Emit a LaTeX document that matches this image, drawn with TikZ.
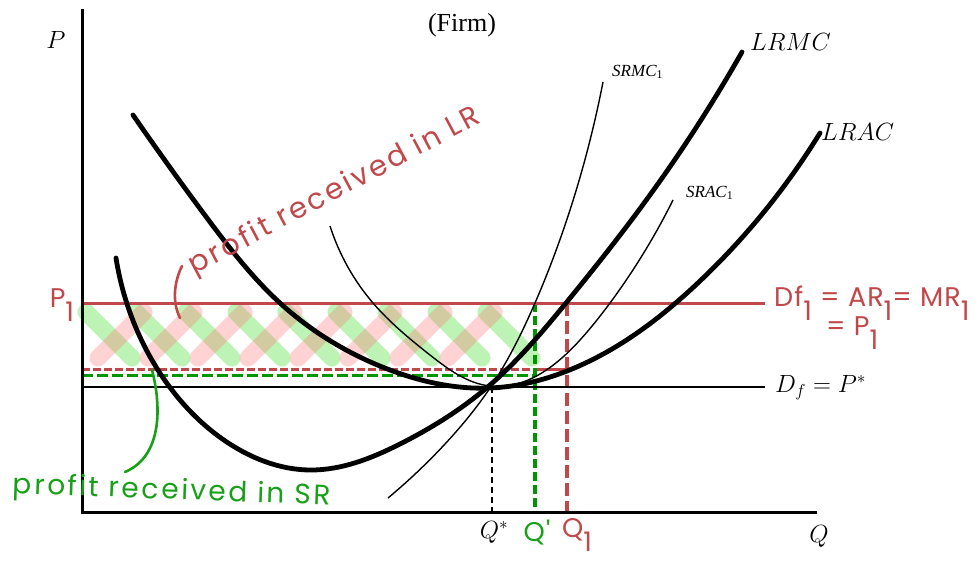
\documentclass[tikz,border=0pt]{standalone}
\usepackage{fontspec}
\usetikzlibrary{hobby}
\newfontfamily\hand{Poppins}[LetterSpace=4]
\newfontfamily\handwide{Poppins}[LetterSpace=9]
\newfontfamily\timesf{Liberation Serif}
\definecolor{hred}{RGB}{192,72,74}
\definecolor{hgreen}{RGB}{25,160,25}
\definecolor{dgreen}{RGB}{0,150,0}
\definecolor{pinkh}{RGB}{255,120,120}
\definecolor{greenh}{RGB}{90,225,70}
\newcommand\hsub[1]{\raisebox{-0.5em}{#1}}
\tikzset{
  axis/.style={line width=3pt, line cap=rect},
  bigcurve/.style={line width=4.8pt, line cap=round, use Hobby shortcut},
  thincurve/.style={line width=1.4pt, use Hobby shortcut},
  greenstroke/.style={draw=greenh, line width=17pt, line cap=round, draw opacity=0.4},
  pinkstroke/.style={draw=pinkh, line width=17pt, line cap=round, draw opacity=0.32},
  mathlab/.style={font=\fontsize{26}{26}\selectfont, inner sep=0pt},
  serlab/.style={font=\timesf\itshape\fontsize{17}{17}\selectfont, inner sep=0pt},
  handred/.style={text=hred, font=\hand\fontsize{27}{27}\selectfont, inner sep=0pt},
  handgreen/.style={text=hgreen, font=\hand\fontsize{27}{27}\selectfont, inner sep=0pt}
}
\begin{document}
\begin{tikzpicture}[x=1pt,y=-1pt]
\useasboundingbox (0,0) rectangle (979,560);
\fill[white] (0,0) rectangle (979,560);

% hatched profit area
\foreach \x in {86,136,...,486} {\draw[greenstroke] (\x,312) -- ++(46,46);}
\foreach \x in {98,148,...,468} {\draw[pinkstroke] (\x,358) -- ++(46,-46);}

% horizontal guide lines
\draw[hred, line width=3pt, dash pattern=on 8pt off 3pt] (82,369) -- (535,369);
\draw[hred, line width=3pt] (535,369) -- (567,369);
\draw[dgreen, line width=3pt, dash pattern=on 11pt off 4pt] (82,375) -- (535,375);

% vertical guide lines
\draw[black, line width=1.1pt, dash pattern=on 6pt off 4pt] (492,387) -- (492,512);
\draw[dgreen, line width=3.4pt, dash pattern=on 9pt off 4pt] (535,303) -- (535,512);
\draw[hred, line width=3.4pt, dash pattern=on 13pt off 5pt] (567,303) -- (567,512);

% price lines
\draw[hred, line width=3pt] (82,303) -- (765,303);
\draw[black, line width=2.8pt] (82,387) -- (765,387);

% curves
\draw[bigcurve] (133,115) .. (207,218) .. (280,303) .. (390,370) .. (490,388) .. (567,371) .. (700,281) .. (820,133);
\draw[bigcurve] (116,258) .. (140,337) .. (180,400) .. (233,446) .. (310,470) .. (400,444) .. (490,385) .. (566,303) .. (655,188) .. (742,52);
\draw[thincurve] (388,498) .. (445,444) .. (490,388) .. (535,303) .. (570,210) .. (603,82);
\draw[thincurve] (330,226) .. (373,303) .. (430,355) .. (490,386) .. (580,340) .. (610,303) .. (673,200);

% axes
\draw[axis] (82,10) -- (82,512) -- (815,512);

% leader brackets
\coordinate (lrA) at (182,266);
\coordinate (lrB) at (180,318);
\draw[hred, line width=2.6pt, line cap=round] (lrA) .. controls (174,282) and (172,302) .. (lrB);
\coordinate (srA) at (152,370);
\coordinate (srB) at (125,472);
\draw[hgreen, line width=2.6pt, line cap=round] (srA) .. controls (160,400) and (165,455) .. (srB);

% labels
\node[font=\timesf\fontsize{26}{26}\selectfont, inner sep=0pt] (firm) at (462,25) {(Firm)};
\node[mathlab] (plab) at (56,40) {$P$};
\node[mathlab, anchor=west] (lrmc) at (750,42) {$LRMC$};
\node[mathlab, anchor=west] (lrac) at (821,132) {$LRAC$};
\node[serlab, anchor=west] (srmc) at (612,72) {SRMC\textsubscript{\upshape 1}};
\node[serlab, anchor=west] (srac) at (686,193) {SRAC\textsubscript{\upshape 1}};
\node[mathlab, anchor=west] (df) at (775,388) {$D_f = P^*$};
\node[mathlab] (qstar) at (494,532) {$Q^*$};
\node[mathlab] (qlab) at (819,536) {$Q$};

\node[handred] (p1) at (62,305) {P\hsub{1}};
\node[handred, anchor=west] (df1) at (774,303) {Df\hsub{1} = AR\hsub{1}= MR\hsub{1}};
\node[handred, anchor=west] (eqp1) at (826,333) {= P\hsub{1}};
\node[handred] (qone) at (577,535) {Q\hsub{1}};
\node[handgreen] (qprime) at (537,533) {Q'};
\node[handred, font=\handwide\fontsize{29}{29}\selectfont, rotate=28] (lrtext) at (335,192) {profit received in LR};
\node[handgreen, font=\handwide\fontsize{28}{28}\selectfont, rotate=-2] (srtext) at (172,492) {profit received in SR};
\end{tikzpicture}
\end{document}
